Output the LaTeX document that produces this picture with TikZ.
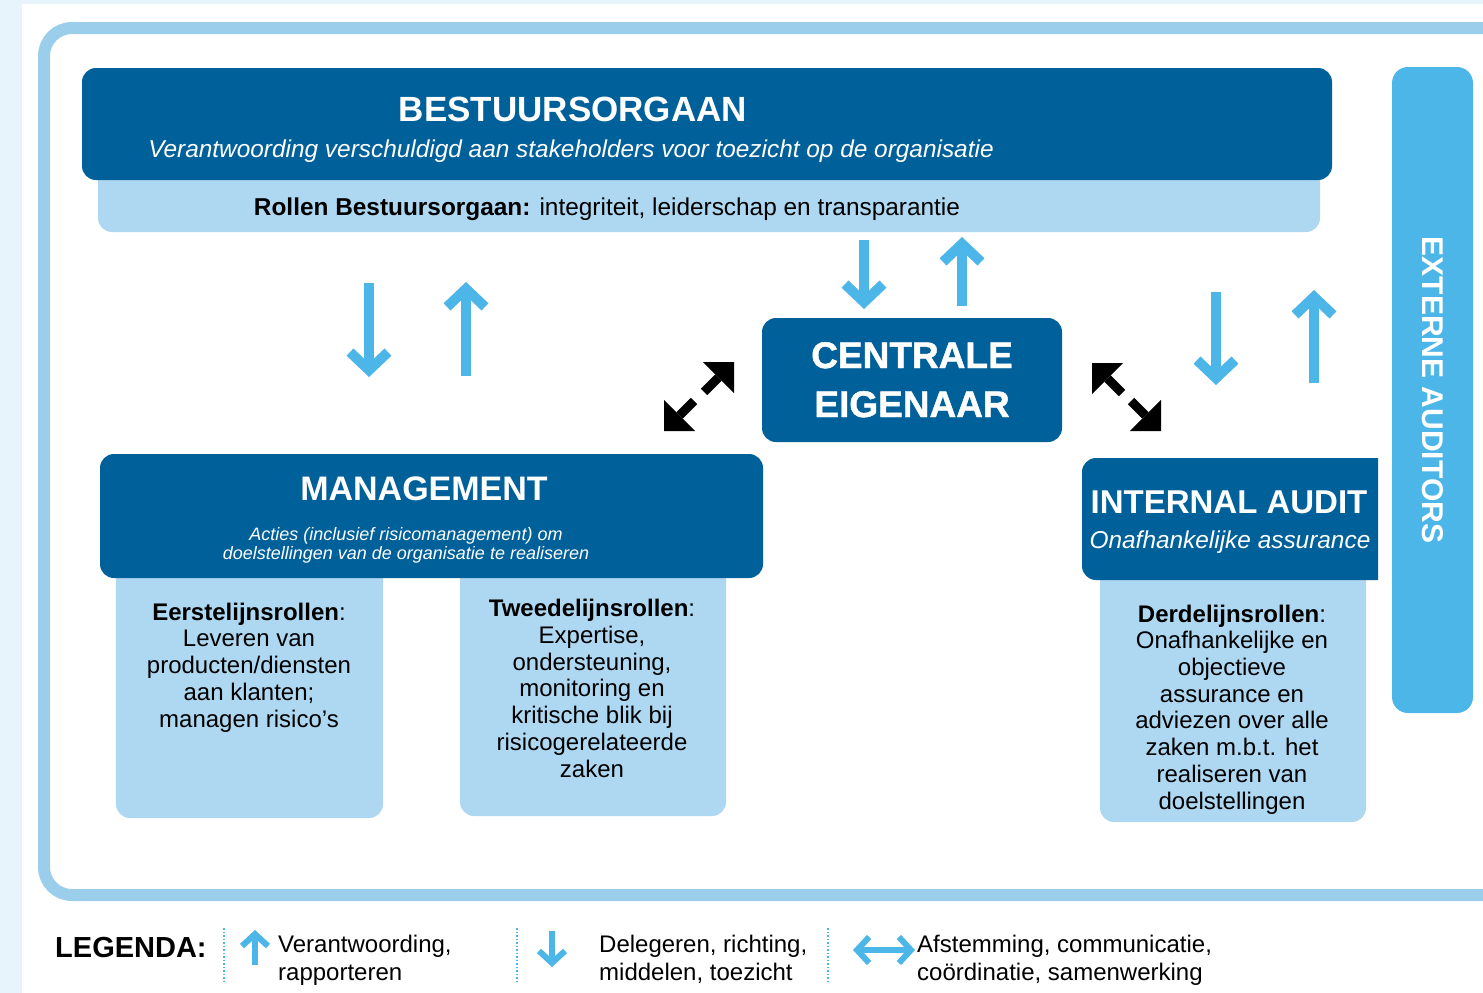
\documentclass[tikz,border=0pt]{standalone}
\usepackage{fontspec}
\setmainfont{Liberation Sans}
\newfontfamily\heavyfont[BoldFeatures={FakeBold=1.2}]{Liberation Sans}
\usetikzlibrary{arrows.meta}
\definecolor{dkblue}{HTML}{00609A}
\definecolor{ltblue}{HTML}{AED8F2}
\definecolor{midblue}{HTML}{4DB6E8}
\definecolor{frameblue}{HTML}{9BCEEB}
\definecolor{paleblue}{HTML}{E8F4FC}
\tikzset{
  darkbox/.style={fill=dkblue, rounded corners=14pt, inner sep=0pt},
  lightbox/.style={fill=ltblue, rounded corners=14pt, inner sep=0pt},
  headtext/.style={white, anchor=base, inner sep=0pt, align=center},
  roletext/.style={anchor=base, inner sep=0pt, align=center, font=\fontsize{24}{26.7}\selectfont},
  legtext/.style={anchor=base west, inner sep=0pt, align=left, font=\fontsize{24}{28}\selectfont},
  flow/.style={draw=midblue, line width=10pt, -{Straight Barb[sharp, length=18pt, width=38pt]}},
  legflow/.style={draw=midblue, line width=6pt, -{Straight Barb[sharp, length=12pt, width=26pt]}},
  corner/.style={line width=9pt, -{Triangle[width=44pt, length=22pt, line width=0pt]}},
  sep/.style={draw=midblue, line width=1.5pt, dotted}
}
\begin{document}
\begin{tikzpicture}[x=1pt,y=-1pt]
\useasboundingbox (0,0) rectangle (1483,993);
\clip (0,0) rectangle (1483,993);
\fill[paleblue] (0,0) rectangle (1483,993);
\fill[white] (22,4) rectangle (1483,993);
\draw[frameblue, line width=12pt, rounded corners=28pt] (44,28) rectangle (1540,895);

\node[lightbox, minimum width=1222pt, minimum height=82pt] (rollen) at (709,191) {};
\node[darkbox, minimum width=1250pt, minimum height=112pt] (bestuur) at (707,124) {};
\node[headtext, font=\bfseries\fontsize{35}{40}\selectfont] (bestuurtitle) at (573,121) {BESTUURSORGAAN};
\node[headtext, font=\itshape\fontsize{24.4}{28}\selectfont] (bestuursub) at (571,157) {Verantwoording verschuldigd aan stakeholders voor toezicht op de organisatie};
\node[anchor=base, inner sep=0pt, font=\fontsize{24.4}{28}\selectfont] (rollentext) at (607,215) {\textbf{Rollen Bestuursorgaan:} integriteit, leiderschap en transparantie};

\node[darkbox, minimum width=300pt, minimum height=124pt] (centraal) at (912,380) {};
\node[headtext, font=\heavyfont\bfseries\fontsize{37}{49}\selectfont] (centraaltext) at (912,417) {CENTRALE\\EIGENAAR};

\node[lightbox, minimum width=267pt, minimum height=268pt] (eerste) at (249.5,684) {};
\node[lightbox, minimum width=266pt, minimum height=266pt] (tweede) at (593,683) {};
\node[darkbox, minimum width=663pt, minimum height=124pt] (management) at (431.5,516) {};
\node[headtext, font=\bfseries\fontsize{34}{40}\selectfont] (mgmttitle) at (424,500) {MANAGEMENT};
\node[headtext, font=\itshape\fontsize{18}{19}\selectfont] (mgmtsub) at (406,559) {Acties (inclusief risicomanagement) om\\doelstellingen van de organisatie te realiseren};
\node[roletext] (eerstetext) at (249,727) {\textbf{Eerstelijnsrollen}:\\Leveren van\\producten/diensten\\aan klanten;\\managen risico's};
\node[roletext] (tweedetext) at (592,777) {\textbf{Tweedelijnsrollen}:\\Expertise,\\ondersteuning,\\monitoring en\\kritische blik bij\\risicogerelateerde\\zaken};

\node[lightbox, minimum width=266pt, minimum height=267pt] (derde) at (1233,688.5) {};
\begin{scope}
\clip (0,0) rectangle (1378,993);
\node[darkbox, minimum width=318pt, minimum height=122pt] (audit) at (1241,519) {};
\end{scope}
\node[headtext, font=\bfseries\fontsize{33}{40}\selectfont] (audittitle) at (1229,513) {INTERNAL AUDIT};
\node[headtext, font=\itshape\fontsize{24.4}{28}\selectfont] (auditsub) at (1230,548) {Onafhankelijke assurance};
\node[roletext] (derdetext) at (1232,809) {\textbf{Derdelijnsrollen}:\\Onafhankelijke en\\objectieve\\assurance en\\adviezen over alle\\zaken m.b.t. het\\realiseren van\\doelstellingen};

\node[fill=midblue, rounded corners=16pt, minimum width=81pt, minimum height=646pt, inner sep=0pt] (extern) at (1432.5,390) {};
\node[white, rotate=-90, inner sep=0pt, font=\bfseries\fontsize{30}{36}\selectfont] (externtext) at (extern.center) {EXTERNE AUDITORS};

\coordinate (A0) at (369,283);
\coordinate (A1) at (369,377);
\coordinate (A2) at (466,376);
\coordinate (A3) at (466,282);
\coordinate (B0) at (864,240);
\coordinate (B1) at (864,309);
\coordinate (B2) at (962,306);
\coordinate (B3) at (962,237);
\coordinate (C0) at (1216,292);
\coordinate (C1) at (1216,385);
\coordinate (C2) at (1314,383);
\coordinate (C3) at (1314,290);
\draw[flow] (A0) -- (A1);
\draw[flow] (A2) -- (A3);
\draw[flow] (B0) -- (B1);
\draw[flow] (B2) -- (B3);
\draw[flow] (C0) -- (C1);
\draw[flow] (C2) -- (C3);

\coordinate (D0) at (704,392);
\coordinate (D1) at (734,362);
\coordinate (D2) at (694,401);
\coordinate (D3) at (664,431);
\coordinate (E0) at (1122,393);
\coordinate (E1) at (1092,363);
\coordinate (E2) at (1131,401);
\coordinate (E3) at (1161,431);
\draw[corner] (D0) -- (D1);
\draw[corner] (D2) -- (D3);
\draw[corner] (E0) -- (E1);
\draw[corner] (E2) -- (E3);

\node[anchor=base west, inner sep=0pt, font=\bfseries\fontsize{29}{34}\selectfont] (legenda) at (55,957) {LEGENDA:};
\draw[sep] (224,928) -- (224,983);
\draw[sep] (517,928) -- (517,983);
\draw[sep] (828,928) -- (828,983);
\coordinate (L0) at (255,965);
\coordinate (L1) at (255,930);
\coordinate (L2) at (552,931);
\coordinate (L3) at (552,967);
\coordinate (L4) at (853,950);
\coordinate (L5) at (915,950);
\draw[legflow] (L0) -- (L1);
\draw[legflow] (L2) -- (L3);
\draw[legflow, {Straight Barb[sharp, length=12pt, width=26pt]}-{Straight Barb[sharp, length=12pt, width=26pt]}] (L4) -- (L5);
\node[legtext] (leg1) at (278,980) {Verantwoording,\\rapporteren};
\node[legtext] (leg2) at (599,980) {Delegeren, richting,\\middelen, toezicht};
\node[legtext] (leg3) at (917,980) {Afstemming, communicatie,\\coördinatie, samenwerking};
\end{tikzpicture}
\end{document}
